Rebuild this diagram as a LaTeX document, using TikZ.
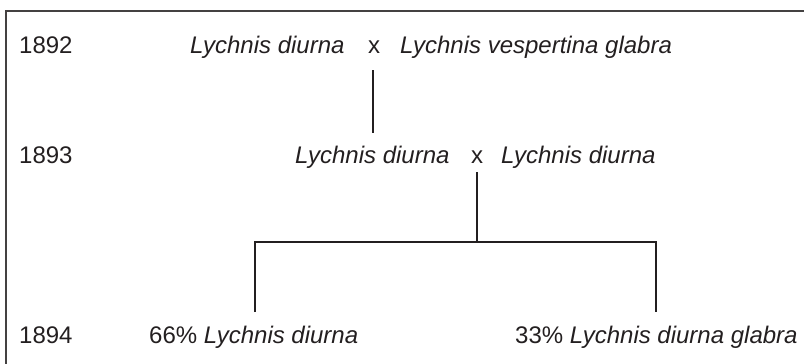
\documentclass[tikz,border=0pt]{standalone}
\usepackage{fontspec}
\setmainfont{Liberation Sans}
\definecolor{ink}{HTML}{231F20}
\begin{document}
\begin{tikzpicture}[x=1pt,y=-1pt,
  lbl/.style={anchor=base west,inner sep=0pt,text=ink,font=\fontsize{24}{27}\selectfont},
  cross/.style={anchor=base,inner sep=0pt,text=ink,font=\fontsize{24}{27}\selectfont},
  link/.style={draw=ink,line width=1.8pt},
  frame/.style={draw=ink!85,line width=1.5pt}]
\useasboundingbox (0,0) rectangle (804,364);
\draw[frame] (804,11) -- (6,11) -- (6,364);
% row 1892
\node[lbl] (y1) at (19,53) {1892};
\node[lbl] (p1) at (190,53) {\itshape Lychnis diurna};
\node[cross] (x1) at (374,53) {x};
\node[lbl] (q1) at (400,53) {\itshape Lychnis vespertina glabra};
% row 1893
\node[lbl] (y2) at (19,163) {1893};
\node[lbl] (p2) at (295,163) {\itshape Lychnis diurna};
\node[cross] (x2) at (477,163) {x};
\node[lbl] (q2) at (501,163) {\itshape Lychnis diurna};
% row 1894
\node[lbl] (y3) at (19,343) {1894};
\node[lbl] (c1) at (149,343) {66\% \itshape Lychnis diurna};
\node[lbl] (c2) at (515,343) {33\% \itshape Lychnis diurna glabra};
% connectors
\coordinate (a1) at (373,70);
\coordinate (a2) at (373,133);
\draw[link] (a1) -- (a2);
\coordinate (b1) at (477,172);
\coordinate (b2) at (477,242);
\coordinate (bl) at (255,242);
\coordinate (br) at (656,242);
\coordinate (cl) at (255,312);
\coordinate (cr) at (656,312);
\draw[link] (b1) -- (b2);
\draw[link] (cl) -- (bl) -- (br) -- (cr);
\end{tikzpicture}
\end{document}
